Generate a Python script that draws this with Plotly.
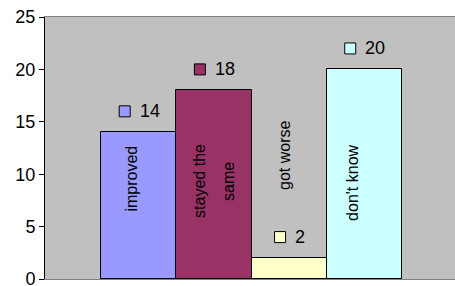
import plotly.graph_objects as go

categories = ["improved", "stayed the same", "got worse", "don't know"]
values = [14, 18, 2, 20]
colors = ["#9999FF", "#993366", "#FFFFCC", "#CCFFFF"]
y_ticks = [0, 5, 10, 15, 20, 25]

# in-bar label lines (category text split into lines)
cat_lines = [["improved"], ["stayed the", "same"], ["got worse"], ["don't know"]]

FONT = "Liberation Sans, Arial, sans-serif"
PX = 75.0  # pixels per x unit (bar width)

fig = go.Figure()
for i, (c, v, col) in enumerate(zip(categories, values, colors)):
    fig.add_trace(go.Bar(x=[i], y=[v], width=1.0, name=c,
                         marker=dict(color=col, line=dict(color="black", width=1)),
                         showlegend=False, hoverinfo="skip"))

# value labels: small square key + number, centered above bar
for i, (v, col) in enumerate(zip(values, colors)):
    txt = str(v)
    tw = 10 * len(txt)
    total = 12 + 8 + tw
    mx = -total / 2 + 6
    fig.add_trace(go.Scatter(x=[i + mx / PX], y=[v + 2], mode="markers",
                             marker=dict(symbol="square", size=11, color=col,
                                         line=dict(color="black", width=1)),
                             showlegend=False, hoverinfo="skip", cliponaxis=False))
    fig.add_annotation(x=i, y=v + 2, xref="x", yref="y", text=txt, showarrow=False,
                       xanchor="left", yanchor="middle", xshift=mx + 6 + 8 - 1,
                       font=dict(family=FONT, size=18, color="black"))

# in-bar rotated category labels
label_pos = [
    [(-7.5, 9.6)],
    [(-14.5, 9.4), (14.5, 9.3)],
    [(-4.5, 11.8)],
    [(-12.5, 9.15)],
]
for i, (lines, pos) in enumerate(zip(cat_lines, label_pos)):
    for line, (dx, yy) in zip(lines, pos):
        fig.add_annotation(x=i, y=yy, xref="x", yref="y", text=line, showarrow=False,
                           textangle=-90, xshift=dx, xanchor="center", yanchor="middle",
                           font=dict(family=FONT, size=16, color="black"))

fig.update_layout(
    width=455, height=286,
    margin=dict(l=45, r=0, t=17, b=7, autoexpand=False),
    paper_bgcolor="white", plot_bgcolor="#C0C0C0",
    bargap=0, barmode="overlay",
    xaxis=dict(range=[-0.5 - 56 / PX, 3.5 + 53 / PX], showticklabels=False, ticks="",
               showgrid=False, zeroline=False, showline=True, linecolor="#808080",
               linewidth=1, mirror=True, automargin=False),
    yaxis=dict(range=[0, 25], tickvals=y_ticks, ticks="outside", ticklen=5,
               tickcolor="black", showgrid=False, zeroline=False, showline=True,
               linecolor="black", linewidth=1, automargin=False,
               ticklabeloverflow="allow",
               tickfont=dict(family=FONT, size=18, color="black")),
)

fig.write_html("out.html", config={"displayModeBar": False},
               post_script="document.body.style.margin='0';document.body.style.overflow='hidden';")
